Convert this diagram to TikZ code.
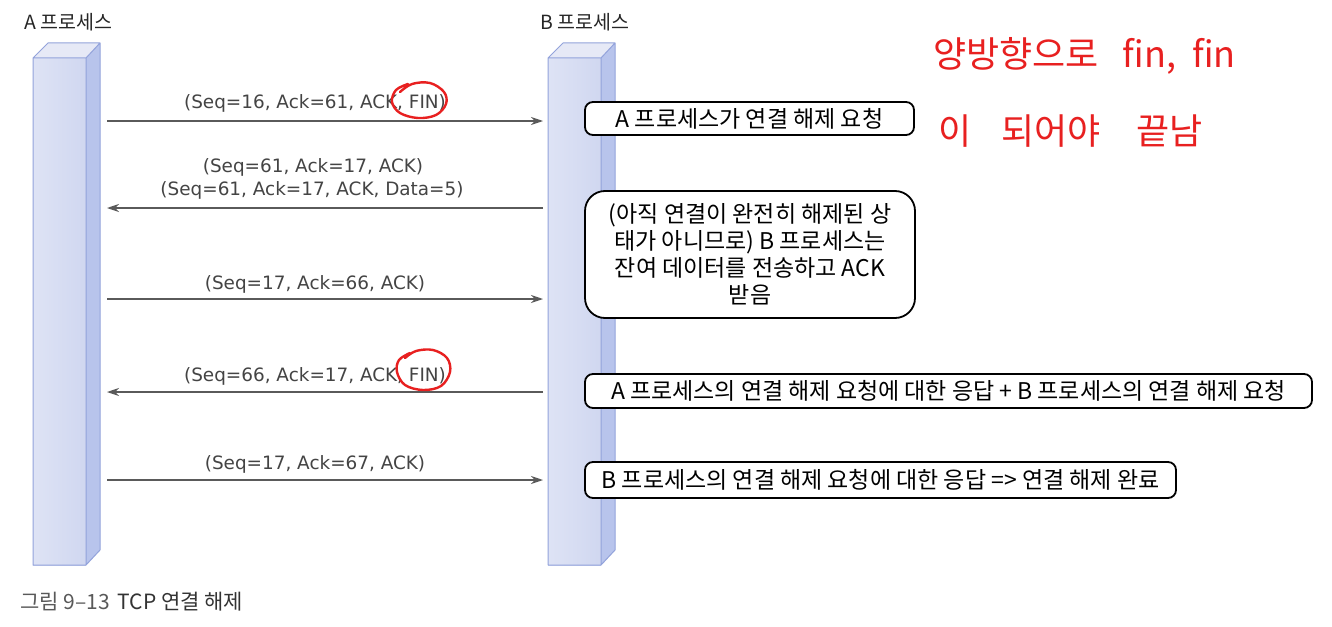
\documentclass[tikz,border=0pt]{standalone}
\usepackage{fontspec}
\setmainfont{Noto Sans CJK KR}
\newfontfamily\labfont{DejaVu Sans}
\usetikzlibrary{arrows.meta}
\definecolor{barfront}{HTML}{D0D7F0}
\definecolor{barfrontl}{HTML}{DEE3F5}
\definecolor{bartop}{HTML}{E6E9F6}
\definecolor{barside}{HTML}{B8C4EC}
\definecolor{baredge}{HTML}{93A3DB}
\definecolor{arrowgray}{HTML}{5A5A5A}
\definecolor{labgray}{HTML}{444444}
\definecolor{penred}{HTML}{E82020}
\tikzset{
  pics/procbar/.style={code={
    \shade[left color=barfrontl, right color=barfront] (0,0) rectangle (53,507);
    \fill[bartop] (0,0) -- (15,-15) -- (67,-15) -- (53,0) -- cycle;
    \fill[barside] (53,0) -- (67,-15) -- (67,492) -- (53,507) -- cycle;
    \draw[baredge, line width=1pt, line join=round] (0,0) rectangle (53,507)
      (0,0) -- (15,-15) -- (67,-15) -- (53,0)
      (67,-15) -- (67,492) -- (53,507);
  }},
  msg/.style={draw=arrowgray, line width=1.4pt, -{Stealth[length=12pt,width=8pt]}},
  msglabel/.style={font=\labfont\fontsize{18.4}{20}\selectfont, text=labgray, anchor=base, inner sep=0pt},
  infobox/.style={draw=black, line width=1.8pt, rounded corners=8pt, fill=white, inner sep=0pt,
    font=\fontsize{23}{27}\selectfont, align=center},
  proclabel/.style={font=\fontsize{19.5}{22}\selectfont, text=black!85, inner sep=0pt},
  pen/.style={draw=penred, line width=2.4pt, line cap=round, line join=round},
  pentext/.style={text=penred, font=\fontsize{36}{40}\selectfont, inner sep=0pt, anchor=west}
}
\begin{document}
\begin{tikzpicture}[x=1pt,y=-1pt]
\useasboundingbox (0,0) rectangle (1332,626);
\fill[white] (0,0) rectangle (1332,626);

% process bars
\pic at (33,58) {procbar};
\pic at (548,58) {procbar};
\node[proclabel] (la) at (68,22) {A 프로세스};
\node[proclabel] (lb) at (585,22) {B 프로세스};

% connector end points
\foreach \i/\y in {1/121, 2/208, 3/299, 4/392, 5/480} {
  \coordinate (a\i) at (107,\y);
  \coordinate (b\i) at (543,\y);
}
\draw[msg] (a1) -- (b1);
\draw[msg] (b2) -- (a2);
\draw[msg] (a3) -- (b3);
\draw[msg] (b4) -- (a4);
\draw[msg] (a5) -- (b5);

% message labels
\node[msglabel] (m1) at (315,108) {(Seq=16, Ack=61, ACK, FIN)};
\node[msglabel] (m2a) at (313,172) {(Seq=61, Ack=17, ACK)};
\node[msglabel] (m2b) at (312,195) {(Seq=61, Ack=17, ACK, Data=5)};
\node[msglabel] (m3) at (315,289) {(Seq=17, Ack=66, ACK)};
\node[msglabel] (m4) at (315,381) {(Seq=66, Ack=17, ACK, FIN)};
\node[msglabel] (m5) at (315,469) {(Seq=17, Ack=67, ACK)};

% info boxes
\node[infobox, minimum width=329pt, minimum height=33pt] (i1) at (749.5,118.5) {A 프로세스가 연결 해제 요청};
\node[infobox, rounded corners=20pt, minimum width=330pt, minimum height=127pt] (i2) at (750,254.5)
  {(아직 연결이 완전히 해제된 상\\태가 아니므로) B 프로세스는\\잔여 데이터를 전송하고 ACK\\받음};
\node[infobox, minimum width=727pt, minimum height=34pt] (i3) at (948.5,391) {A 프로세스의 연결 해제 요청에 대한 응답 + B 프로세스의 연결 해제 요청};
\node[infobox, minimum width=591pt, minimum height=36pt] (i4) at (880.5,480) {B 프로세스의 연결 해제 요청에 대한 응답 => 연결 해제 완료};

% red handwritten marks
\draw[pen] plot[smooth, tension=0.6] coordinates {(400,92) (412,84) (430,83) (444,92) (446,104) (436,115) (418,118) (400,113) (392,102) (396,90) (408,84)};
\draw[pen] plot[smooth, tension=0.6] coordinates {(405,358) (416,351) (433,350) (447,358) (450,372) (441,386) (423,390) (405,385) (397,372) (399,360) (410,353)};
\node[pentext] (h1) at (933,56) {양방향으로\hspace{24pt}fin,\hspace{16pt}fin};
\node[pentext] (h2) at (938,131) {이\hspace{30pt}되어야\hspace{36pt}끝남};

% caption
\node[inner sep=0pt, anchor=west, font=\fontsize{21}{24}\selectfont] (cap) at (20,602)
  {\textcolor{black!65}{그림 9–13}\hspace{8pt}\textcolor{black!80}{TCP 연결 해제}};
\end{tikzpicture}
\end{document}
